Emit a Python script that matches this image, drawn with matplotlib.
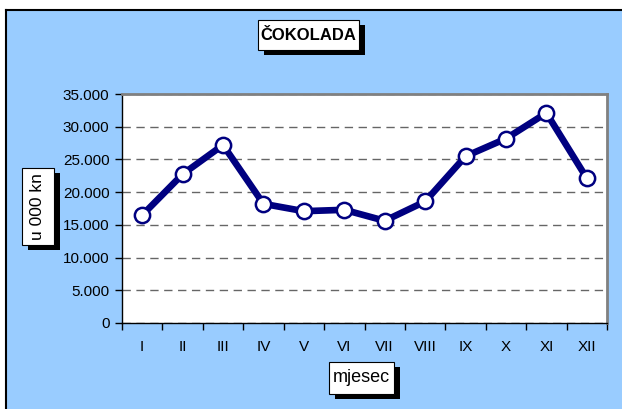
import matplotlib
matplotlib.use("Agg")
import matplotlib.pyplot as plt
from matplotlib.patches import Rectangle
from matplotlib.ticker import FuncFormatter

# data (u 000 kn)
months = ["I", "II", "III", "IV", "V", "VI", "VII", "VIII", "IX", "X", "XI", "XII"]
values = [16480, 22740, 27210, 18210, 17090, 17300, 15620, 18570, 25480, 28180, 32100, 22130]
y_ticks = [0, 5000, 10000, 15000, 20000, 25000, 30000, 35000]

W, H = 622, 409
plt.rcParams['font.family'] = ['Liberation Sans', 'DejaVu Sans']

fig = plt.figure(figsize=(W / 100, H / 100), dpi=100, facecolor="white")

# blue chart background with black border on left/top (cropped on right/bottom)
fig.patches.append(Rectangle((6 / W, 0), 1, (H - 10) / H, transform=fig.transFigure,
                             facecolor="#99CCFF", edgecolor="none", zorder=-2))
fig.lines.append(plt.Line2D([6 / W, 6 / W], [0, (H - 10) / H], transform=fig.transFigure,
                            color="black", lw=1.5, zorder=-1))
fig.lines.append(plt.Line2D([6 / W, 1], [(H - 10) / H, (H - 10) / H], transform=fig.transFigure,
                            color="black", lw=1.5, zorder=-1))

ax = fig.add_axes([122 / W, (H - 323) / H, (607 - 122) / W, (323 - 94) / H])
ax.set_facecolor("white")

x = list(range(1, len(months) + 1))
ax.plot(x, values, color="#000080", lw=4.8, marker="o", markersize=11,
        markerfacecolor="white", markeredgecolor="#000080", markeredgewidth=1.8, zorder=3)

ax.set_xlim(0.5, len(months) + 0.5)
ax.set_ylim(0, 35000)
ax.set_yticks(y_ticks)
ax.yaxis.set_major_formatter(FuncFormatter(lambda v, p: f"{int(v):,}".replace(",", ".")))
ax.set_xticks(x)
ax.set_xticklabels(months)
ax.set_xticks([i + 0.5 for i in range(len(months) + 1)], minor=True)
ax.tick_params(axis="x", which="major", length=0, pad=12, labelsize=11)
ax.tick_params(axis="x", which="minor", length=5, width=1, direction="out")
ax.tick_params(axis="y", length=5, width=1, direction="out", labelsize=11, pad=4)

ax.grid(axis="y", color="#666666", linestyle=(0, (6, 4)), lw=1)
ax.set_axisbelow(True)
for s in ["top", "right"]:
    ax.spines[s].set_color("#808080")
    ax.spines[s].set_linewidth(2)
for s in ["left", "bottom"]:
    ax.spines[s].set_color("black")
    ax.spines[s].set_linewidth(1)


def label_box(x0, y0, x1, y1, text, **kw):
    # shadow, then white box, then text (pixel coords from top-left)
    fig.patches.append(Rectangle(((x0 + 6) / W, (H - y1 - 5) / H), (x1 - x0) / W, (y1 - y0) / H,
                                 transform=fig.transFigure, facecolor="black",
                                 edgecolor="none", zorder=1))
    fig.patches.append(Rectangle((x0 / W, (H - y1) / H), (x1 - x0) / W, (y1 - y0) / H,
                                 transform=fig.transFigure, facecolor="white",
                                 edgecolor="black", lw=0.8, zorder=2))
    fig.text((x0 + x1) / 2 / W, (H - (y0 + y1) / 2) / H, text, ha="center", va="center",
             zorder=3, **kw)


label_box(258, 20, 359, 50, "ČOKOLADA", fontsize=12, fontweight="bold")
label_box(22, 168, 54, 245, "u 000 kn", fontsize=12.5, rotation=90)
label_box(329, 362, 394, 394, "mjesec", fontsize=13)

fig.savefig("out.png", dpi=100, facecolor="white")
